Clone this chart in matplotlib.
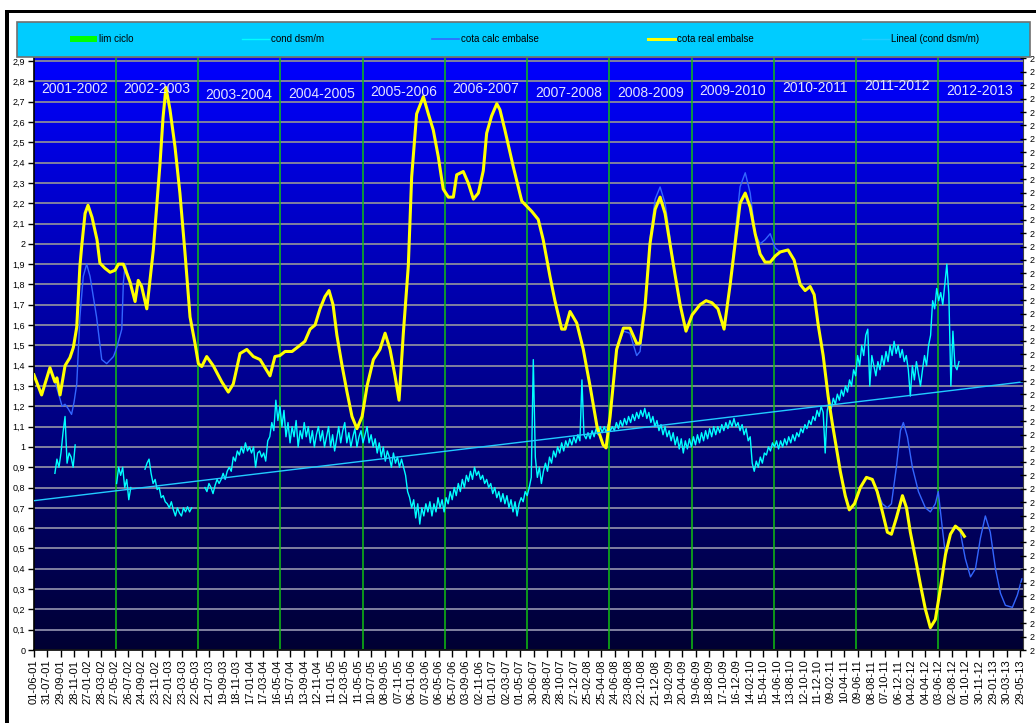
import numpy as np
import matplotlib
matplotlib.use("Agg")
import matplotlib.pyplot as plt
from matplotlib.patches import Rectangle, Patch
from matplotlib.lines import Line2D
from matplotlib.colors import LinearSegmentedColormap

# ---------------- data ----------------
start_date = np.datetime64('2001-06-01')

xtick_labels = ['01-06-01','31-07-01','29-09-01','28-11-01','27-01-02','28-03-02','27-05-02','26-07-02',
    '24-09-02','23-11-02','22-01-03','23-03-03','22-05-03','21-07-03','19-09-03','18-11-03','17-01-04',
    '17-03-04','16-05-04','15-07-04','13-09-04','12-11-04','11-01-05','12-03-05','11-05-05','10-07-05',
    '08-09-05','07-11-05','06-01-06','07-03-06','06-05-06','05-07-06','03-09-06','02-11-06','01-01-07',
    '02-03-07','01-05-07','30-06-07','29-08-07','28-10-07','27-12-07','25-02-08','25-04-08','24-06-08',
    '23-08-08','22-10-08','21-12-08','19-02-09','20-04-09','19-06-09','18-08-09','17-10-09','16-12-09',
    '14-02-10','15-04-10','14-06-10','13-08-10','12-10-10','11-12-10','09-02-11','10-04-11','09-06-11',
    '08-08-11','07-10-11','06-12-11','04-02-12','04-04-12','03-06-12','02-08-12','01-10-12','30-11-12',
    '29-01-13','30-03-13','29-05-13']
tick_step_days = 60

cycle_bounds = ['2001-06-01','2002-06-01','2003-06-01','2004-06-01','2005-06-01','2006-06-01',
                '2007-06-01','2008-06-01','2009-06-01','2010-06-01','2011-06-01','2012-06-01','2013-06-01']
cycle_labels = ['2001-2002','2002-2003','2003-2004','2004-2005','2005-2006','2006-2007',
                '2007-2008','2008-2009','2009-2010','2010-2011','2011-2012','2012-2013']

# cota real embalse (days since 2001-06-01, value)
real_days = [2,36,73,95,104,118,132,140,162,177,192,206,215,229,242,260,282,295,317,340,362,377,399,
    429,451,465,480,503,517,532,548,562,575,588,606,628,650,673,695,717,732,747,769,798,836,865,887,
    917,947,976,1006,1028,1050,1072,1094,1117,1148,1183,1205,1228,1250,1272,1294,1312,1330,1347,1370,
    1392,1414,1436,1459,1481,1509,1538,1561,1583,1605,1623,1642,1664,1679,1701,1731,1753,1775,1797,
    1819,1842,1864,1879,1908,1930,1953,1975,1997,2012,2034,2057,2071,2093,2130,2168,2212,2241,2263,
    2293,2315,2345,2360,2382,2412,2441,2471,2502,2529,2542,2560,2573,2589,2619,2648,2678,2693,2715,
    2737,2760,2782,2804,2826,2848,2871,2897,2924,2959,2986,3012,3039,3066,3093,3115,3137,3160,3182,
    3204,3226,3248,3271,3293,3315,3350,3377,3404,3426,3448,3466,3484,3506,3528,3546,3564,3582,3604,
    3622,3645,3671,3698,3724,3746,3769,3791,3809,3831,3858,3876,3893,3916,3938,3960,3982,4004,4026,
    4049,4071,4093,4115,4133]
real_vals = [1.355,1.256,1.39,1.32,1.34,1.256,1.346,1.40,1.44,1.49,1.59,1.89,2.0,2.15,2.19,2.13,2.02,
    1.905,1.88,1.86,1.87,1.9,1.9,1.81,1.716,1.82,1.79,1.68,1.82,1.97,2.2,2.4,2.62,2.77,2.66,2.48,2.25,
    1.95,1.64,1.51,1.41,1.396,1.445,1.40,1.32,1.27,1.31,1.46,1.48,1.445,1.43,1.39,1.35,1.445,1.45,
    1.47,1.47,1.5,1.52,1.58,1.6,1.68,1.74,1.77,1.7,1.55,1.4,1.27,1.15,1.09,1.15,1.3,1.43,1.48,1.56,
    1.48,1.35,1.23,1.56,1.89,2.33,2.64,2.725,2.64,2.56,2.43,2.27,2.23,2.23,2.34,2.356,2.30,2.22,2.25,
    2.36,2.545,2.63,2.69,2.66,2.56,2.38,2.21,2.16,2.12,2.02,1.84,1.72,1.58,1.58,1.667,1.61,1.48,1.3,
    1.1,1.01,0.995,1.15,1.3,1.48,1.585,1.585,1.51,1.51,1.69,2.0,2.17,2.23,2.15,2.0,1.85,1.7,1.57,1.65,
    1.7,1.72,1.71,1.68,1.58,1.8,2.0,2.2,2.25,2.18,2.05,1.95,1.91,1.91,1.94,1.96,1.97,1.92,1.8,1.77,
    1.79,1.75,1.6,1.45,1.25,1.12,1.0,0.88,0.76,0.69,0.72,0.8,0.85,0.84,0.78,0.68,0.58,0.57,0.65,0.76,
    0.7,0.58,0.45,0.32,0.2,0.11,0.15,0.3,0.47,0.57,0.61,0.59,0.56]

# cota calc embalse
calc_days = [2,36,73,95,109,127,140,153,169,180,192,206,221,236,251,280,303,325,355,370,392,399,407,
    429,451,465,480,503,517,532,548,562,575,588,606,628,650,673,695,717,732,747,769,798,836,865,887,
    917,947,976,1006,1028,1050,1072,1094,1117,1148,1183,1205,1228,1250,1272,1294,1312,1330,1347,1370,
    1392,1414,1436,1459,1481,1509,1538,1561,1583,1605,1623,1642,1664,1679,1701,1731,1753,1775,1797,
    1819,1842,1864,1879,1908,1930,1953,1975,1997,2012,2034,2057,2071,2093,2130,2168,2212,2241,2263,
    2293,2315,2345,2360,2382,2412,2441,2471,2502,2529,2542,2560,2573,2589,2619,2648,2678,2693,2715,
    2737,2760,2782,2804,2826,2848,2871,2897,2924,2959,2986,3012,3039,3066,3093,3115,3137,3160,3182,
    3204,3226,3248,3271,3293,3315,3350,3377,3404,3426,3448,3466,3484,3506,3528,3546,3564,3582,3604,
    3622,3645,3671,3698,3724,3746,3769,3791,3809,3831,3849,3862,3880,3902,3929,3960,3982,4004,4017,
    4035,4049,4071,4093,4115,4137,4160,4182,4204,4226,4248,4271,4293,4315,4346,4368,4388]
calc_vals = [1.355,1.256,1.39,1.32,1.27,1.2,1.21,1.19,1.16,1.22,1.31,1.64,1.84,1.9,1.84,1.64,1.43,1.41,
    1.445,1.49,1.58,1.81,1.9,1.81,1.716,1.82,1.79,1.68,1.82,1.97,2.2,2.4,2.62,2.77,2.66,2.48,2.25,
    1.95,1.64,1.51,1.41,1.396,1.445,1.40,1.32,1.27,1.31,1.46,1.48,1.445,1.43,1.39,1.35,1.445,1.45,
    1.47,1.47,1.5,1.52,1.58,1.6,1.68,1.74,1.77,1.7,1.55,1.4,1.27,1.15,1.09,1.15,1.3,1.43,1.48,1.56,
    1.48,1.35,1.23,1.56,1.89,2.33,2.64,2.725,2.64,2.56,2.43,2.27,2.23,2.23,2.34,2.356,2.30,2.22,2.25,
    2.36,2.545,2.63,2.69,2.66,2.56,2.38,2.21,2.16,2.12,2.02,1.84,1.72,1.58,1.58,1.667,1.61,1.48,1.3,
    1.1,1.01,0.995,1.15,1.3,1.48,1.57,1.56,1.45,1.47,1.69,2.02,2.22,2.28,2.2,2.03,1.85,1.7,1.57,1.65,
    1.7,1.72,1.71,1.68,1.58,1.8,2.05,2.28,2.35,2.25,2.05,2.0,2.02,2.05,1.98,1.96,1.97,1.92,1.8,1.77,
    1.79,1.75,1.6,1.45,1.25,1.12,1.0,0.88,0.76,0.69,0.72,0.8,0.85,0.84,0.78,0.72,0.7,0.72,0.9,1.08,
    1.12,1.05,0.9,0.78,0.7,0.68,0.72,0.78,0.6,0.47,0.57,0.61,0.58,0.45,0.36,0.4,0.55,0.66,0.58,0.4,
    0.28,0.22,0.21,0.27,0.35]

# cond dsm/m : segments sampled every 9 days
cond_step = 9
cond_seg_start = [95, 369, 495, 761]
cond_seg_vals = [
    [0.87,0.94,0.90,0.97,1.07,1.15,0.92,0.97,0.95,0.90,1.01],
    [0.82,0.90,0.86,0.90,0.80,0.84,0.74,0.80],
    [0.89,0.92,0.94,0.87,0.82,0.84,0.79,0.80,0.75,0.76,0.73,0.72,0.70,0.73,0.69,0.66,0.70,0.675,
     0.66,0.70,0.68,0.705,0.68,0.70],
    [0.80,0.78,0.82,0.80,0.77,0.81,0.84,0.82,0.84,0.87, 0.84,0.88,0.90,0.88,0.95,0.93,0.98,0.96,1.00,0.97,
     1.02,0.98,1.00,0.97,1.00,0.90,0.97,0.98,0.95,0.97, 0.93,1.03,1.05,1.12,1.08,1.23,1.13,1.20,1.10,1.18,
     1.05,1.12,1.02,1.10,1.05,1.13,1.00,1.08,1.04,1.12, 1.05,1.10,1.02,1.08,1.00,1.06,1.10,1.03,1.08,1.00,
     1.05,1.10,1.00,1.06,0.98,1.04,1.10,1.02,1.08,1.12, 1.02,1.07,1.00,1.05,1.09,1.00,1.05,1.08,1.02,1.06,
     1.10,1.02,1.06,1.00,1.04,0.97,1.02,0.95,1.00,0.93, 0.98,0.95,0.90,0.97,0.92,0.95,0.90,0.94,0.90,0.86,
     0.78,0.75,0.70,0.74,0.65,0.72,0.62,0.70,0.66,0.72, 0.68,0.73,0.66,0.72,0.68,0.75,0.70,0.74,0.68,0.75,
     0.72,0.78,0.74,0.80,0.76,0.82,0.78,0.84,0.80,0.86, 0.83,0.88,0.84,0.90,0.86,0.88,0.84,0.86,0.82,0.84,
     0.80,0.82,0.77,0.80,0.75,0.78,0.73,0.77,0.72,0.76, 0.70,0.74,0.68,0.73,0.66,0.72,0.75,0.73,0.78,0.76,
     0.80,0.85,1.43,0.95,0.85,0.90,0.82,0.88,0.92,0.88, 0.95,0.92,0.98,0.95,1.00,0.97,1.02,0.98,1.03,1.00,
     1.04,1.01,1.05,1.02,1.06,1.03,1.33,1.06,1.04,1.07, 1.04,1.08,1.05,1.09,1.06,1.10,1.07,1.10,1.07,1.11,
     1.08,1.10,1.08,1.12,1.09,1.13,1.10,1.14,1.11,1.15, 1.12,1.16,1.13,1.17,1.14,1.18,1.15,1.19,1.14,1.17,
     1.12,1.15,1.10,1.13,1.08,1.11,1.06,1.10,1.05,1.08, 1.03,1.07,1.01,1.05,0.99,1.04,0.97,1.03,0.99,1.04,
     1.00,1.05,1.01,1.06,1.02,1.07,1.03,1.08,1.04,1.09, 1.05,1.10,1.06,1.10,1.07,1.11,1.08,1.12,1.09,1.13,
     1.10,1.14,1.10,1.12,1.08,1.11,1.06,1.09,1.03,1.05, 0.92,0.88,0.93,0.90,0.95,0.92,0.97,0.96,1.00,0.98,
     1.02,1.00,1.03,0.99,1.03,1.00,1.04,1.01,1.05,1.02, 1.06,1.03,1.07,1.05,1.09,1.07,1.11,1.09,1.13,1.11,
     1.15,1.13,1.18,1.15,1.20,1.17,0.97,1.18,1.22,1.19, 1.24,1.21,1.26,1.23,1.28,1.25,1.30,1.27,1.33,1.30,
     1.38,1.35,1.45,1.40,1.50,1.45,1.55,1.58,1.30,1.45, 1.40,1.35,1.42,1.38,1.45,1.40,1.47,1.42,1.50,1.45,
     1.52,1.46,1.50,1.44,1.48,1.42,1.45,1.38,1.25,1.40, 1.33,1.42,1.36,1.30,1.38,1.45,1.40,1.50,1.55,1.72,
     1.68,1.78,1.72,1.76,1.70,1.80,1.90,1.75,1.30,1.57, 1.40,1.38,1.42]]

# Lineal (cond dsm/m) trend end values
trend_days = [0, 4391]
trend_vals = [0.735, 1.32]

# ---------------- layout ----------------
W, H = 1036, 723
fig = plt.figure(figsize=(W / 100, H / 100), dpi=100)
fig.patch.set_facecolor('white')

normal = ['Liberation Sans', 'DejaVu Sans']

# black frame of the original chart (left and top)
fig.add_artist(Rectangle((5 / W, 0), 4 / W, (H - 10) / H, transform=fig.transFigure,
                         facecolor='black', edgecolor='none'))
fig.add_artist(Rectangle((5 / W, (H - 13) / H), (W - 5) / W, 3 / H, transform=fig.transFigure,
                         facecolor='black', edgecolor='none'))

ax = fig.add_axes([33.5 / W, 1 - 650 / H, 989 / W, 593 / H])
xmax = 4391
ymax = 2.92
ax.set_xlim(0, xmax)
ax.set_ylim(0, ymax)

# background gradient
cmap = LinearSegmentedColormap.from_list('bg', ['#000033', '#0000FF'])
grad = np.linspace(0, 1, 256).reshape(-1, 1)
ax.imshow(grad, extent=[0, xmax, 0, ymax], origin='lower', aspect='auto', cmap=cmap, zorder=0)

# gridlines
yticks = np.round(np.arange(0, 2.91, 0.1), 1)
ax.set_yticks(yticks)
ax.set_yticklabels([('%g' % v).replace('.', ',') for v in yticks], fontsize=6.5, family=normal)
ax.yaxis.grid(True, color='#8080A0', lw=1.4, zorder=1)
ax.xaxis.grid(False)

# cycle limits
bounds_days = [(np.datetime64(b) - start_date).astype(int) for b in cycle_bounds]
for d in bounds_days[1:-1]:
    ax.axvline(d, color='#10C010', lw=1.1, zorder=2)

label_y = [2.76, 2.76, 2.735, 2.74, 2.75, 2.76, 2.745, 2.745, 2.755, 2.765, 2.775, 2.755]
for i, lab in enumerate(cycle_labels):
    cx = (bounds_days[i] + bounds_days[i + 1]) / 2
    ax.text(cx, label_y[i], lab, ha='center', va='center', color='#E4E4FF', fontsize=10,
            family=normal, zorder=7)

# series
for s0, vals in zip(cond_seg_start, cond_seg_vals):
    dd = s0 + cond_step * np.arange(len(vals))
    ax.plot(dd, vals, color='#00FFFF', lw=1.0, zorder=3)
ax.plot(calc_days, calc_vals, color='#3366FF', lw=1.0, zorder=4)
ax.plot(real_days, real_vals, color='#FFFF00', lw=2.2, zorder=5, solid_joinstyle='round')
ax.plot(trend_days, trend_vals, color='#22CCFF', lw=1.0, zorder=6)

# x ticks
tick_days = np.arange(len(xtick_labels)) * tick_step_days
ax.set_xticks(tick_days)
ax.set_xticklabels(xtick_labels, rotation=90, fontsize=8, family=normal)
ax.tick_params(axis='x', length=5, width=1, direction='out', pad=2)
ax.tick_params(axis='y', length=4, width=1, direction='out', pad=2)

for side in ['left', 'bottom']:
    ax.spines[side].set_color('black')
    ax.spines[side].set_linewidth(1.2)
ax.spines['top'].set_color('#606080')
ax.spines['right'].set_color('#404040')

# right axis (labels cut off by the image border)
ax2 = ax.twinx()
ax2.set_ylim(0, 593 / 13.45)
ax2.set_yticks(np.arange(45))
ax2.set_yticklabels(['2'] * 45, fontsize=6.5, family=normal)
ax2.tick_params(axis='y', length=4, width=1, direction='inout', pad=3)
for s in ax2.spines.values():
    s.set_visible(False)

# legend box
fig.add_artist(Rectangle((17 / W, 1 - 57 / H), 1013 / W, 35 / H, transform=fig.transFigure,
                         facecolor='#00CCFF', edgecolor='#707070', lw=1.2, zorder=10))
handles = [Patch(facecolor='#00FF00', edgecolor='none'),
           Line2D([], [], color='#00FFFF', lw=1.0),
           Line2D([], [], color='#3366FF', lw=1.2),
           Line2D([], [], color='#FFFF00', lw=2.2),
           Line2D([], [], color='#22CCFF', lw=1.0)]
labels = ['lim ciclo', 'cond dsm/m', 'cota calc embalse', 'cota real embalse', 'Lineal (cond dsm/m)']
leg = fig.legend(handles, labels, loc='center left', bbox_to_anchor=(70 / W, 1 - 39.5 / H),
                 ncol=5, frameon=False, prop={'family': normal, 'size': 7},
                 handlelength=2.78, handleheight=0.55, handletextpad=0.2, columnspacing=11.15,
                 borderpad=0, borderaxespad=0)
leg.set_zorder(11)

fig.savefig('out.png', dpi=100)
